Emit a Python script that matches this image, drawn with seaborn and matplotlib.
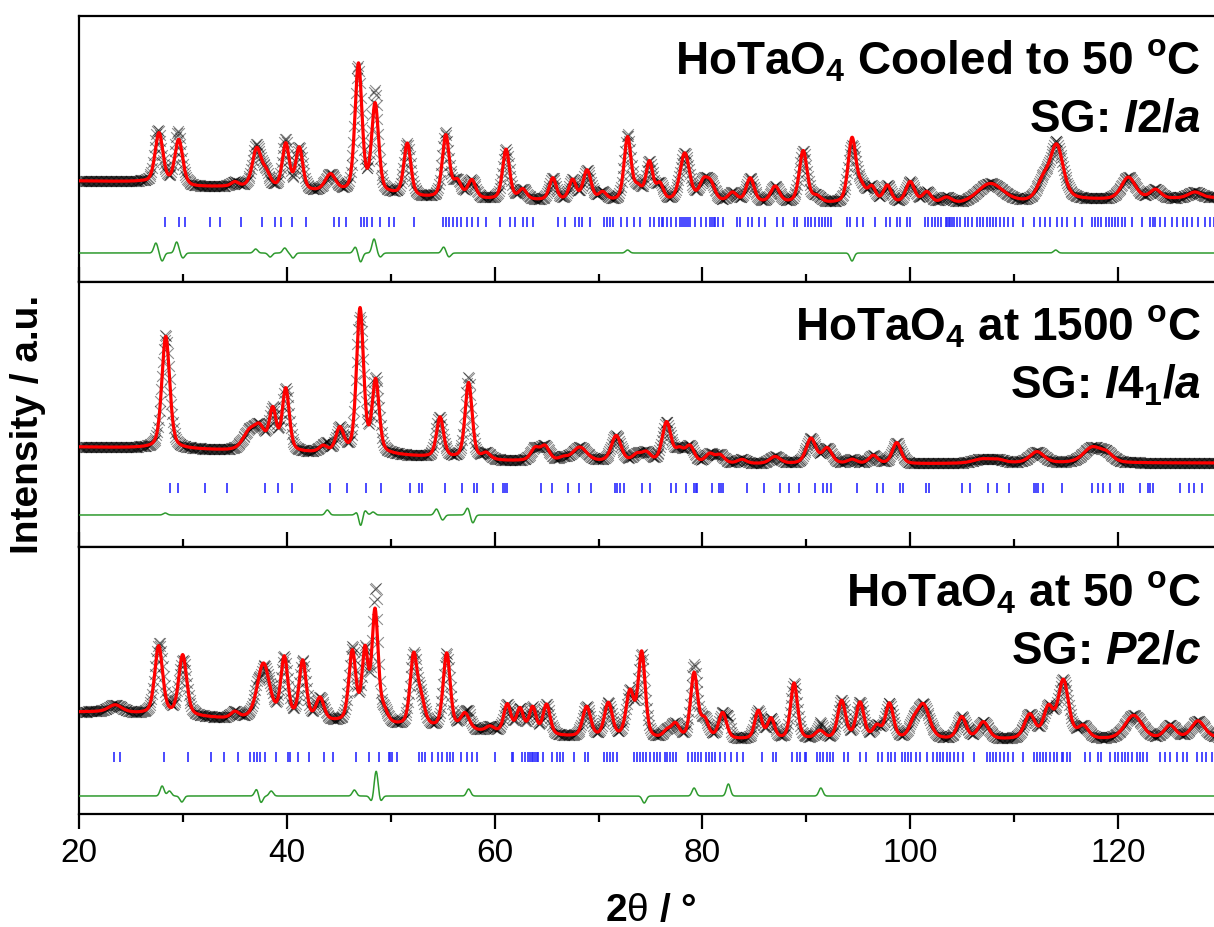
import numpy as np
import pandas as pd
import seaborn as sns
import matplotlib
matplotlib.use("Agg")
import matplotlib.pyplot as plt
from matplotlib.ticker import MultipleLocator

# ---------------- data (intensity in a.u.) ----------------
# panel 1: HoTaO4 cooled to 50 C, I2/a
cool_bg_pos = [20, 26, 31, 35, 42, 45, 50, 53, 60, 72, 84, 92, 100, 105, 111, 116, 120, 129]
cool_bg_int = [101, 100, 95, 95, 90, 89, 87, 84, 82, 80, 79, 78, 78, 77, 79, 82, 82, 84]
cool_peak_pos = [27.7, 29.6, 35.0, 37.1, 38.0, 39.9, 41.2, 44.2, 46.9, 48.5, 51.6, 55.3, 56.4,
                 57.8, 61.1, 62.7, 65.6, 67.5, 68.9, 70.4, 72.8, 73.8, 74.9, 75.9, 78.3, 80.1,
                 80.8, 82.9, 84.6, 87.0, 89.7, 91.0, 94.4, 95.3, 96.3, 97.8, 100.0, 101.6,
                 103.5, 107.7, 112.8, 114.1, 121.0, 123.6, 127.4]
cool_peak_int = [50, 45, 4, 38, 14, 45, 42, 17, 128, 88, 52, 62, 16,
                 18, 50, 10, 22, 20, 30, 8, 63, 12, 38, 16, 48, 18,
                 16, 9, 24, 16, 52, 6, 64, 14, 15, 17, 21, 11,
                 6, 20, 18, 54, 22, 9, 6]
cool_peak_fwhm = [0.9, 0.9, 0.8, 1.0, 1.0, 0.8, 0.8, 1.2, 0.8, 0.8, 0.8, 0.8, 0.9,
                  0.9, 0.8, 0.9, 0.8, 0.8, 0.9, 0.9, 0.8, 0.9, 0.8, 0.8, 1.1, 1.0,
                  1.0, 1.0, 0.9, 1.0, 0.9, 1.0, 0.9, 0.9, 0.9, 0.9, 1.0, 1.0,
                  1.2, 3.0, 1.4, 1.5, 1.6, 1.2, 1.5]
cool_diff_pos = [27.4, 28.0, 29.4, 30.0, 37.0, 38.4, 39.8, 40.6, 46.6, 47.1, 48.4, 49.0,
                 55.1, 55.6, 72.8, 94.4, 114.0]
cool_diff_int = [10, -8, 11, -5, 4, -4, 5, -5, 6, -9, 14, -4, 6, -4, 3, -8, 3]
cool_hkl = [28.3, 29.6, 30.2, 32.6, 33.6, 35.6, 37.6, 38.9, 39.4, 40.5, 41.8, 44.5, 45.0,
            45.7, 47.1, 47.4, 47.7, 48.2, 49.0, 49.8, 50.3, 52.2, 55.0, 55.3, 55.6, 56.0,
            56.4, 56.8, 57.3, 57.8, 58.4, 59.2, 60.5, 61.5, 62.0, 62.7, 63.1, 63.7, 66.1,
            66.8, 67.7, 68.1, 68.4, 69.2, 70.5, 70.8, 71.1, 71.4, 72.2, 72.7, 73.4, 74.0,
            75.0, 75.3, 75.8, 76.1, 76.2, 76.6, 77.0, 77.5, 77.8, 78.0, 78.2, 78.4, 78.6,
            78.8, 79.3, 79.9, 80.3, 80.7, 80.9, 81.1, 81.2, 81.5, 82.0, 83.3, 83.6, 84.4,
            84.8, 85.4, 86.0, 87.2, 87.8, 88.8, 89.1, 89.9, 90.2, 90.5, 90.8, 91.2, 91.5,
            91.8, 92.1, 92.4, 93.9, 94.2, 94.9, 95.5, 96.6, 97.7, 98.1, 98.7, 99.0, 99.7,
            100.0, 101.4, 101.7, 102.1, 102.4, 102.7, 103.0, 103.4, 103.5, 103.7, 103.8,
            104.0, 104.2, 104.5, 104.8, 105.3, 105.6, 105.9, 106.4, 106.7, 107.0, 107.4,
            107.7, 108.0, 108.3, 108.6, 109.0, 109.4, 109.9, 110.9, 111.9, 112.5, 113.0,
            113.5, 114.1, 114.6, 115.1, 115.9, 116.5, 117.5, 117.8, 118.1, 118.4, 118.8,
            119.1, 119.4, 119.7, 120.0, 120.4, 120.7, 121.3, 122.3, 123.1, 123.4, 123.6,
            124.0, 124.5, 125.2, 125.7, 126.3, 126.6, 127.1, 127.7, 128.4, 128.9, 129.2]

# panel 2: HoTaO4 at 1500 C, I41/a
hot_bg_pos = [20, 26, 30, 35, 42, 50, 53, 61, 70, 80, 90, 100, 110, 129]
hot_bg_int = [100, 99, 98, 96, 94, 92, 90, 86, 85, 83, 83, 83, 84, 84]
hot_peak_pos = [28.35, 36.4, 37.4, 38.65, 39.9, 43.5, 45.1, 47.05, 48.55, 54.75, 57.5, 59.2,
                63.9, 64.85, 66.6, 68.2, 71.7, 73.7, 74.6, 76.55, 77.8, 78.8, 80.7, 81.7,
                83.8, 87.0, 90.45, 92.0, 94.4, 96.45, 98.7, 106.9, 108.4, 112.2, 117.5, 118.9]
hot_peak_int = [112, 18, 20, 40, 62, 6, 24, 144, 72, 40, 76, 6,
                12, 14, 3, 14, 26, 7, 9, 40, 12, 16, 9, 8,
                4, 7, 25, 15, 4, 8, 21, 4, 3, 11, 15, 8]
hot_peak_fwhm = [0.9, 1.5, 1.2, 0.8, 0.8, 0.9, 0.9, 0.8, 0.8, 0.8, 0.8, 0.9,
                 1.0, 1.0, 1.0, 1.6, 1.1, 1.0, 1.0, 1.0, 1.0, 1.0, 1.0, 1.0,
                 1.0, 1.2, 1.1, 1.1, 1.0, 1.0, 1.0, 2.0, 1.5, 1.6, 2.0, 1.5]
hot_diff_pos = [28.3, 43.9, 46.8, 47.1, 47.5, 48.3, 54.4, 55.0, 57.4, 57.9]
hot_diff_int = [2, 5, 4, -12, 5, 3, 6, -5, 7, -8]
hot_hkl = [28.8, 29.5, 32.1, 34.2, 37.9, 39.2, 40.5, 44.2, 45.8, 47.6, 49.1, 51.9, 52.7,
           53.0, 55.2, 56.9, 58.0, 58.3, 59.8, 60.8, 61.0, 61.2, 64.5, 65.5, 67.1, 68.1,
           69.3, 71.6, 71.8, 72.1, 72.5, 74.2, 75.0, 77.0, 77.5, 78.4, 79.2, 79.4, 79.5,
           80.9, 81.6, 81.8, 82.0, 84.3, 85.9, 87.5, 88.3, 89.3, 90.8, 91.6, 92.0, 92.4,
           94.9, 96.8, 97.4, 99.0, 99.3, 101.5, 101.8, 105.0, 105.8, 107.5, 108.4, 109.5,
           111.9, 112.1, 112.3, 112.8, 114.6, 117.5, 118.1, 118.6, 119.2, 120.2, 120.5,
           122.1, 122.9, 123.1, 123.4, 126.0, 126.8, 127.3, 128.1]

# panel 3: HoTaO4 at 50 C, P2/c
mono_bg_pos = [20, 23, 26, 30, 34, 40, 45, 51, 56, 60, 67, 75, 90, 100, 110, 118, 123, 129]
mono_bg_int = [102, 102, 100, 98, 95, 94, 91, 87, 84, 81, 77, 74, 74, 74, 74, 74, 74, 76]
mono_peak_pos = [23.5, 27.67, 29.98, 35.0, 37.75, 39.76, 41.53, 43.2, 46.31, 47.53, 48.49,
                 49.3, 52.2, 52.9, 55.39, 57.15, 59.56, 61.22, 62.44, 63.66, 65.0, 68.86,
                 70.95, 73.03, 74.16, 76.6, 77.4, 79.2, 80.2, 81.95, 85.38, 86.6, 88.82,
                 91.3, 93.4, 95.17, 96.8, 98.0, 100.3, 101.26, 104.96, 107.04, 111.5,
                 113.3, 114.74, 116.65, 121.5, 125.0, 127.7]
mono_peak_int = [7, 68, 60, 6, 55, 60, 58, 22, 70, 70, 110,
                 12, 68, 25, 75, 16, 5, 28, 24, 26, 30, 30,
                 34, 45, 85, 7, 14, 65, 18, 26, 28, 20, 56,
                 8, 38, 36, 12, 35, 12, 34, 22, 17, 24,
                 30, 58, 12, 24, 13, 17]
mono_peak_fwhm = [1.5, 0.9, 0.9, 0.9, 1.4, 0.8, 0.8, 0.9, 0.8, 0.7, 0.7,
                  0.9, 0.8, 0.9, 0.8, 1.0, 0.9, 0.8, 0.8, 0.8, 0.8, 0.9,
                  0.9, 0.9, 0.8, 0.9, 0.9, 0.8, 0.9, 0.9, 0.8, 0.8, 0.8,
                  1.0, 0.9, 0.9, 0.9, 0.9, 1.0, 1.4, 1.0, 1.2, 1.2,
                  1.1, 1.2, 1.2, 2.0, 1.3, 1.5]
mono_diff_pos = [28.0, 28.7, 29.9, 37.1, 37.5, 38.5, 46.5, 48.2, 48.6, 49.0, 57.5, 74.4,
                 79.2, 82.5, 91.4]
mono_diff_int = [10, 5, -6, 7, -7, 5, 6, -6, 26, -6, 7, -7, 8, 12, 8]
mono_hkl = [23.4, 23.9, 28.2, 30.5, 32.7, 34.0, 35.3, 36.5, 36.8, 37.1, 37.4, 37.9, 39.0,
            40.1, 40.3, 41.1, 42.1, 43.6, 44.4, 46.7, 47.9, 48.9, 49.8, 49.9, 50.1, 50.6,
            52.7, 53.0, 53.3, 54.0, 54.6, 54.9, 55.4, 55.7, 56.0, 56.8, 57.3, 57.8, 58.3,
            60.0, 61.7, 61.8, 62.6, 62.9, 63.2, 63.4, 63.6, 63.7, 63.9, 64.1, 64.2, 64.7,
            65.5, 66.0, 66.3, 66.6, 67.6, 68.7, 69.0, 70.5, 70.8, 71.1, 71.4, 71.8, 73.4,
            73.7, 74.0, 74.3, 74.6, 75.0, 75.3, 75.6, 75.9, 76.4, 76.6, 76.9, 77.2, 77.5,
            78.6, 79.0, 79.3, 79.6, 79.9, 80.3, 80.6, 80.9, 81.2, 81.7, 82.2, 82.8, 83.3,
            83.9, 85.7, 86.8, 87.1, 88.6, 89.1, 89.4, 89.9, 90.0, 91.0, 91.3, 91.6, 92.0,
            92.3, 92.6, 93.6, 94.0, 95.2, 95.7, 96.9, 97.3, 97.9, 98.2, 98.5, 99.2, 99.5,
            99.8, 100.1, 100.6, 100.9, 101.6, 102.2, 102.6, 102.9, 103.2, 103.5, 103.8,
            104.2, 104.6, 105.1, 106.1, 107.4, 107.7, 108.0, 108.3, 108.6, 109.0, 109.4,
            109.9, 110.9, 111.9, 112.2, 112.5, 112.8, 113.1, 113.5, 113.8, 114.1, 114.6,
            114.7, 115.1, 115.4, 116.8, 117.3, 118.1, 118.4, 119.2, 119.7, 120.0, 120.4,
            120.7, 121.0, 121.3, 121.8, 122.1, 122.4, 122.8, 124.0, 124.5, 125.0, 125.7,
            126.3, 126.6, 127.6, 128.1, 128.5, 129.0]

titles = [r"HoTaO$_\mathbf{4}$ Cooled to 50 $^\mathbf{o}$C",
          r"HoTaO$_\mathbf{4}$ at 1500 $^\mathbf{o}$C",
          r"HoTaO$_\mathbf{4}$ at 50 $^\mathbf{o}$C"]
space_groups = [r"SG: $\mathbfit{I}$2/$\mathbfit{a}$",
                r"SG: $\mathbfit{I}\mathbf{4}_\mathbf{1}$/$\mathbfit{a}$",
                r"SG: $\mathbfit{P}$2/$\mathbfit{c}$"]


def profile(x, pos, amp, fwhm, eta=0.4):
    # pseudo-Voigt sum of the read peaks
    y = np.zeros_like(x)
    for p, a, w in zip(pos, amp, fwhm):
        g = np.exp(-4 * np.log(2) * ((x - p) / w) ** 2)
        l = 1 / (1 + 4 * ((x - p) / w) ** 2)
        y += a * (eta * l + (1 - eta) * g)
    return y


panels = [
    (cool_bg_pos, cool_bg_int, cool_peak_pos, cool_peak_int, cool_peak_fwhm,
     cool_diff_pos, cool_diff_int, cool_hkl, 266, 60, 29),
    (hot_bg_pos, hot_bg_int, hot_peak_pos, hot_peak_int, hot_peak_fwhm,
     hot_diff_pos, hot_diff_int, hot_hkl, 265, 59, 32),
    (mono_bg_pos, mono_bg_int, mono_peak_pos, mono_peak_int, mono_peak_fwhm,
     mono_diff_pos, mono_diff_int, mono_hkl, 267, 57, 18),
]

sns.set_style("ticks")
plt.rcParams["font.family"] = ["Liberation Sans", "DejaVu Sans"]
plt.rcParams["mathtext.fontset"] = "custom"
plt.rcParams["mathtext.rm"] = "Liberation Sans"
plt.rcParams["mathtext.bf"] = "Liberation Sans:bold"
plt.rcParams["mathtext.it"] = "Liberation Sans:italic"
plt.rcParams["mathtext.bfit"] = "Liberation Sans:italic:bold"
plt.rcParams["text.color"] = "black"
plt.rcParams["xtick.color"] = "black"
plt.rcParams["xtick.labelcolor"] = "black"

W, H = 1214, 927
fig = plt.figure(figsize=(W / 100, H / 100), dpi=100)
left = 79 / W
width = 110 * 10.39 / W
tops = [16, 282, 547]
bottoms = [282, 547, 814]

x_fine = np.arange(20, 130.001, 0.02)
x_obs = np.arange(20, 130.001, 0.08)

for i, (bgp, bgi, pp, pi, pw, dp, di, hkl, ph, tick_y, diff_y) in enumerate(panels):
    ax = fig.add_axes([left, 1 - bottoms[i] / H, width, (bottoms[i] - tops[i]) / H])

    calc = np.interp(x_fine, bgp, bgi) + profile(x_fine, pp, pi, pw)
    diff_fine = profile(x_fine, dp, di, [0.45] * len(dp), eta=0.0)
    calc_o = np.interp(x_obs, bgp, bgi) + profile(x_obs, pp, pi, pw)
    obs = calc_o + profile(x_obs, dp, di, [0.45] * len(dp), eta=0.0)

    df_obs = pd.DataFrame({"tth": x_obs, "I": obs})
    sns.scatterplot(data=df_obs, x="tth", y="I", marker="x", s=60, color="black",
                    linewidth=0.8, alpha=0.45, ax=ax, zorder=2)
    sns.lineplot(x=x_fine, y=calc, color="red", linewidth=2.3, estimator=None,
                 sort=False, ax=ax, zorder=3)
    sns.lineplot(x=x_fine, y=diff_fine + diff_y, color="#2e9a2e", linewidth=1.1,
                 estimator=None, sort=False, ax=ax, zorder=3)
    ax.vlines(hkl, tick_y - 5, tick_y + 5, color="#2b2bff", linewidth=1.2, zorder=3)

    ax.set_xlim(20, 130)
    ax.set_ylim(0, ph)
    ax.set_xlabel("")
    ax.set_ylabel("")
    ax.set_yticks([])
    ax.xaxis.set_major_locator(MultipleLocator(20))
    ax.xaxis.set_minor_locator(MultipleLocator(10))
    for s in ax.spines.values():
        s.set_linewidth(1.6)
        s.set_color("black")
    if i < 2:
        ax.tick_params(axis="x", which="both", direction="in", labelbottom=False,
                       width=1.6)
    else:
        ax.tick_params(axis="x", which="both", direction="out", labelsize=24,
                       width=1.6, pad=6, labelcolor="black")
    ax.tick_params(axis="x", which="major", length=11)
    ax.tick_params(axis="x", which="minor", length=6)

    xr = (1201 - 79) / 1143
    ax.text(xr, 1 - 59 / ph, titles[i], transform=ax.transAxes, ha="right",
            va="baseline", fontsize=33, fontweight="bold", color="black")
    ax.text(xr, 1 - 116 / ph, space_groups[i], transform=ax.transAxes, ha="right",
            va="baseline", fontsize=33, fontweight="bold", color="black")

fig.text(651 / W, 1 - 921 / H, r"2$\mathrm{\theta}$ / °", ha="center", va="baseline",
         fontsize=28, fontweight="bold", color="black")
fig.text(28 / W, 1 - 424 / H, "Intensity / a.u.", ha="center", va="center",
         rotation=90, fontsize=28, fontweight="bold", color="black")

fig.savefig("out.png", dpi=100)
